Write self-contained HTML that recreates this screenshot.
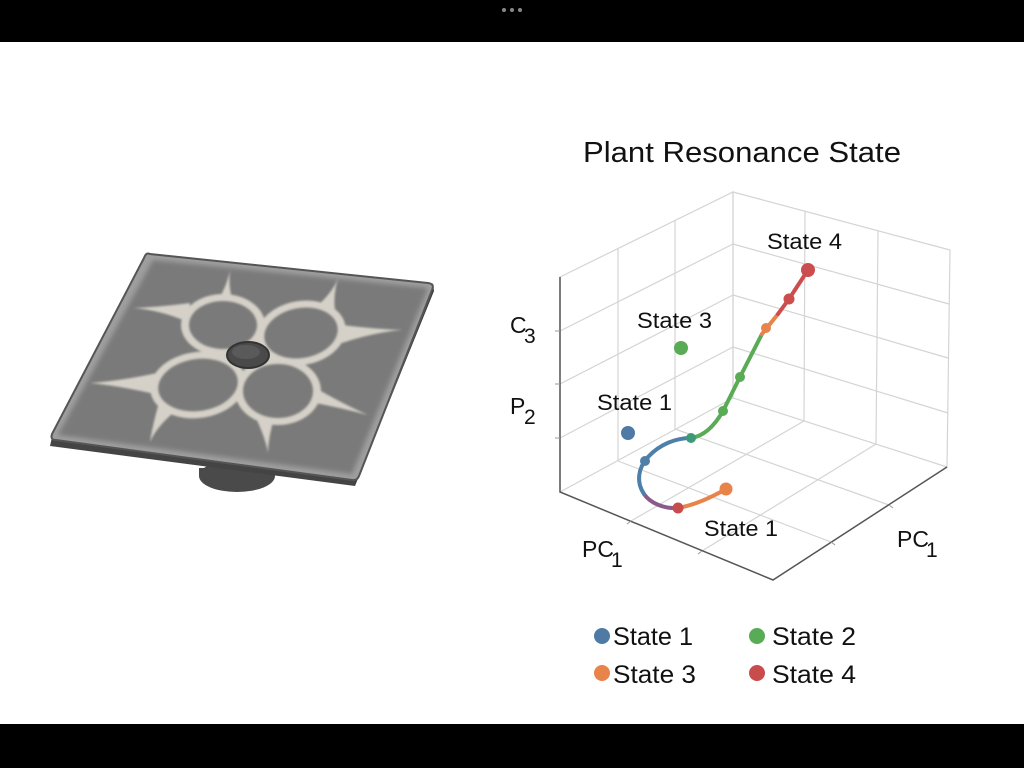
<!DOCTYPE html>
<html><head><meta charset="utf-8"><style>
html,body{margin:0;padding:0;background:#fff;}
svg{display:block;font-family:"Liberation Sans","DejaVu Sans",sans-serif;}
</style></head><body>
<svg width="1024" height="768" viewBox="0 0 1024 768" xmlns="http://www.w3.org/2000/svg">
<defs>
<filter id="bl" x="-10%" y="-10%" width="120%" height="120%"><feGaussianBlur stdDeviation="1"/></filter>
<filter id="bl2" x="-10%" y="-10%" width="120%" height="120%"><feGaussianBlur stdDeviation="2.5"/></filter>
</defs>
<rect x="0" y="0" width="1024" height="42" fill="#000"/>
<rect x="0" y="724" width="1024" height="44" fill="#000"/>
<circle cx="504" cy="10" r="2" fill="#888"/><circle cx="512" cy="10" r="2" fill="#888"/><circle cx="520" cy="10" r="2" fill="#888"/>

<!-- plate -->
<ellipse cx="237" cy="476" rx="38" ry="16" fill="#4a4a4a"/>
<path d="M199,468 L275,468 L275,476 L199,476Z" fill="#4a4a4a"/>
<path d="M52,437 L355,478 L355,486 L50,446 Z" fill="#444"/>
<path d="M355,478 L433,283 L434,291 L355,486Z" fill="#3d3d3d"/>
<path d="M150,254 Q146,252 144,258 L52,434 Q50,440 56,440 L352,480 Q357,481 359,476 L432,290 Q435,284 428,283 Z" fill="#9e9e9e" stroke="#555" stroke-width="2"/>
<path d="M153,260 L428,288 L352,474 L58,435 Z" fill="#7a7a7a" filter="url(#bl2)"/>
<g fill="#d5d1c8" filter="url(#bl)">
<ellipse cx="223" cy="325" rx="42" ry="31"/>
<ellipse cx="301" cy="333" rx="45" ry="32" transform="rotate(-10 301 333)"/>
<ellipse cx="198" cy="385" rx="48" ry="33" transform="rotate(-8 198 385)"/>
<ellipse cx="278" cy="391" rx="43" ry="34"/>
<path d="M214,306 Q226,290 230,270 Q228,290 234,304 Z"/>
<path d="M317,306 Q333,292 338,278 Q333,295 335,311 Z"/>
<path d="M342,325 Q375,329 403,330 Q375,332 342,343 Z"/>
<path d="M190,303 Q160,307 133,308 Q160,310 188,322 Z"/>
<path d="M157,373 Q120,381 90,383 Q120,386 155,394 Z"/>
<path d="M158,406 Q152,428 150,442 Q156,428 172,414 Z"/>
<path d="M256,418 Q266,440 268,453 Q268,440 274,418 Z"/>
<path d="M312,386 Q345,405 368,415 Q342,408 310,402 Z"/>
</g>
<g fill="#7a7a7a" filter="url(#bl)">
<ellipse cx="223" cy="325" rx="34" ry="24"/>
<ellipse cx="301" cy="333" rx="37" ry="25" transform="rotate(-10 301 333)"/>
<ellipse cx="198" cy="385" rx="40" ry="26" transform="rotate(-8 198 385)"/>
<ellipse cx="278" cy="391" rx="35" ry="27"/>
</g>
<ellipse cx="248" cy="355" rx="21" ry="13" fill="#4a4a4a" stroke="#333" stroke-width="2"/>
<ellipse cx="246" cy="352" rx="14" ry="7" fill="#5a5a5a"/>

<!-- 3D box grid -->
<g stroke="#d4d4d4" stroke-width="1.2" fill="none">
<polygon points="560,277 733,192 733,398 560,492"/>
<polygon points="733,192 950,250 947,467 733,398"/>
<line x1="618" y1="249" x2="618" y2="461"/><line x1="675" y1="220" x2="675" y2="429"/>
<line x1="560" y1="331" x2="733" y2="244"/><line x1="560" y1="384" x2="733" y2="295"/><line x1="560" y1="438" x2="733" y2="347"/>
<line x1="805" y1="211" x2="804" y2="421"/><line x1="878" y1="231" x2="876" y2="444"/>
<line x1="733" y1="244" x2="949" y2="304"/><line x1="733" y1="295" x2="948" y2="358"/><line x1="733" y1="347" x2="948" y2="413"/>
<line x1="631" y1="521" x2="804" y2="421"/><line x1="702" y1="551" x2="876" y2="444"/>
<line x1="618" y1="461" x2="831" y2="542"/><line x1="675" y1="429" x2="889" y2="505"/>
</g>
<g stroke="#555" stroke-width="1.5" fill="none">
<polyline points="560,277 560,492 773,580 947,467"/>
</g>
<g stroke="#999" stroke-width="1">
<line x1="555" y1="331" x2="560" y2="331"/><line x1="555" y1="384" x2="560" y2="384"/><line x1="555" y1="438" x2="560" y2="438"/>
<line x1="631" y1="521" x2="627" y2="524"/><line x1="702" y1="551" x2="698" y2="554"/>
<line x1="831" y1="542" x2="835" y2="545"/><line x1="889" y1="505" x2="893" y2="508"/>
</g>

<!-- trajectory -->
<g fill="none" stroke-width="4" stroke-linecap="round">
<path d="M726,489 C712,497 695,505 678,508" stroke="#e8834a"/>
<path d="M678,508 C664,509 650,503 644,494" stroke="#8a5a8a"/>
<path d="M644,494 C636,482 638,468 648,457 C660,444 676,438 691,438" stroke="#4e7fa8"/>
<path d="M691,438 C705,436 715,425 723,411 L740,377 L762,334" stroke="#5aab55"/>
<path d="M762,334 L778,314" stroke="#e8834a"/>
<path d="M778,314 L789,299 L808,270" stroke="#cc4d4d"/>
</g>
<circle cx="726" cy="489" r="6.5" fill="#e8834a"/>
<circle cx="678" cy="508" r="5.5" fill="#c94c4c"/>
<circle cx="645" cy="461" r="5" fill="#4e7fa8"/>
<circle cx="691" cy="438" r="5" fill="#3d9a78"/>
<circle cx="723" cy="411" r="5" fill="#5aab55"/>
<circle cx="740" cy="377" r="5" fill="#5aab55"/>
<circle cx="766" cy="328" r="5" fill="#e8834a"/>
<circle cx="789" cy="299" r="5.5" fill="#cc4d4d"/>
<circle cx="808" cy="270" r="7" fill="#cc4d4d"/>
<circle cx="628" cy="433" r="7" fill="#4e7aa5"/>
<circle cx="681" cy="348" r="7" fill="#5aab55"/>

<g fill="#111" font-size="22">
<text x="583" y="162" font-size="29" textLength="318" lengthAdjust="spacingAndGlyphs">Plant Resonance State</text>
<text x="767" y="249" textLength="75" lengthAdjust="spacingAndGlyphs">State 4</text>
<text x="637" y="328" textLength="75" lengthAdjust="spacingAndGlyphs">State 3</text>
<text x="597" y="410" textLength="75" lengthAdjust="spacingAndGlyphs">State 1</text>
<text x="704" y="536" textLength="74" lengthAdjust="spacingAndGlyphs">State 1</text>
<text x="510" y="333" font-size="23">C</text><text x="524" y="343" font-size="21">3</text>
<text x="510" y="414" font-size="23">P</text><text x="524" y="424" font-size="21">2</text>
<text x="582" y="557" font-size="23">PC</text><text x="611" y="567" font-size="21">1</text>
<text x="897" y="547" font-size="23">PC</text><text x="926" y="557" font-size="21">1</text>
</g>

<!-- legend -->
<circle cx="602" cy="636" r="8" fill="#4e7aa5"/>
<circle cx="757" cy="636" r="8" fill="#5aab55"/>
<circle cx="602" cy="673" r="8" fill="#e8834a"/>
<circle cx="757" cy="673" r="8" fill="#c94c4c"/>
<g fill="#111" font-size="25">
<text x="613" y="645" textLength="80" lengthAdjust="spacingAndGlyphs">State 1</text>
<text x="772" y="645" textLength="84" lengthAdjust="spacingAndGlyphs">State 2</text>
<text x="613" y="683" textLength="83" lengthAdjust="spacingAndGlyphs">State 3</text>
<text x="772" y="683" textLength="84" lengthAdjust="spacingAndGlyphs">State 4</text>
</g>
</svg>
</body></html>
